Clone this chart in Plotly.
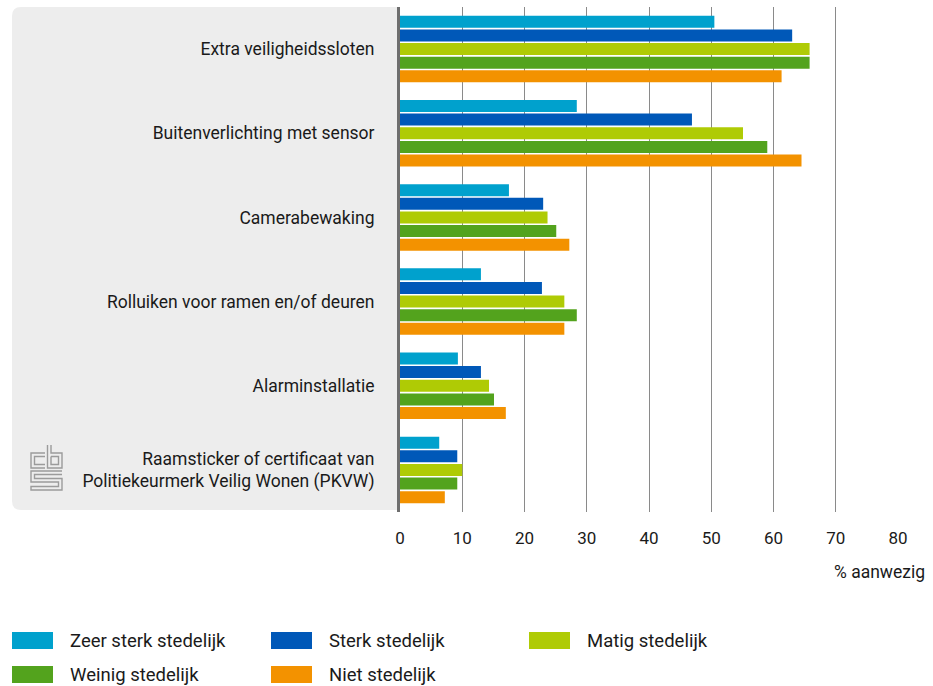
import plotly.graph_objects as go

# ---------------- data ----------------
CATEGORIES = [
    "Extra veiligheidssloten",
    "Buitenverlichting met sensor",
    "Camerabewaking",
    "Rolluiken voor ramen en/of deuren",
    "Alarminstallatie",
    "Raamsticker of certificaat van<br>Politiekeurmerk Veilig Wonen (PKVW)",
]
SERIES = ["Zeer sterk stedelijk", "Sterk stedelijk", "Matig stedelijk",
          "Weinig stedelijk", "Niet stedelijk"]
ZEER_STERK = [50.5, 28.4, 17.5, 13.0, 9.3, 6.3]
STERK = [63.0, 46.9, 23.0, 22.8, 13.0, 9.2]
MATIG = [65.8, 55.1, 23.7, 26.4, 14.3, 10.0]
WEINIG = [65.8, 59.0, 25.1, 28.4, 15.1, 9.2]
NIET = [61.3, 64.5, 27.2, 26.4, 17.0, 7.2]
VALUES = [ZEER_STERK, STERK, MATIG, WEINIG, NIET]
COLORS = ["#00a1cd", "#0058b8", "#afcb05", "#53a31d", "#f39200"]
X_TICKS = [0, 10, 20, 30, 40, 50, 60, 70, 80]
X_TITLE = "% aanwezig"

FONT = "Roboto, Liberation Sans, sans-serif"
TXT = "#1a1a1a"

W, H = 933, 686
ML, MR, MT, MB = 400, 35, 7, 174
PW = W - ML - MR
PH = H - MT - MB


def px(x):
    return (x - ML) / PW


def py(y):
    return (H - MB - y) / PH


fig = go.Figure()
for name, vals, col in zip(SERIES, VALUES, COLORS):
    fig.add_trace(go.Bar(
        y=CATEGORIES, x=vals, name=name, orientation="h",
        marker=dict(color=col, line=dict(width=0)),
        showlegend=False,
    ))

shapes = []
# grey rounded panel behind category labels
r = 9
x0, x1, y0, y1 = 12, 400, 7, 510
panel = (f"M{px(x1)},{py(y0)} L{px(x0 + r)},{py(y0)} "
         f"Q{px(x0)},{py(y0)} {px(x0)},{py(y0 + r)} "
         f"L{px(x0)},{py(y1 - r)} Q{px(x0)},{py(y1)} {px(x0 + r)},{py(y1)} "
         f"L{px(x1)},{py(y1)} Z")
shapes.append(dict(type="path", path=panel, xref="paper", yref="paper",
                   fillcolor="#ededed", line=dict(width=0), layer="below"))


# CBS logo (decorative)
def pth(points):
    return "M" + " L".join(f"{px(a)},{py(b)}" for a, b in points)


logo_paths = [
    # c
    [(45, 453), (31, 453), (31, 468), (45, 468)],
    [(45, 456.5), (34.5, 456.5), (34.5, 464.5), (45, 464.5)],
    # b
    [(47.5, 445), (47.5, 468), (62, 468), (62, 453), (51, 453), (51, 445)],
    [(51, 456.5), (58.5, 456.5), (58.5, 464.5), (51, 464.5), (51, 456.5)],
    # S
    [(62, 471), (31, 471), (31, 482), (58.5, 482), (58.5, 486.5), (31, 486.5),
     (31, 490), (62, 490), (62, 478.5), (34.5, 478.5), (34.5, 474.5), (62, 474.5)],
]
for pts in logo_paths:
    shapes.append(dict(type="path", path=pth(pts), xref="paper", yref="paper",
                       line=dict(color="#9b9b9b", width=1.4)))

annotations = []
# custom legend
LEG_X = [12, 271, 529]
LEG_Y = [640.5, 674.5]
for i, (name, col) in enumerate(zip(SERIES, COLORS)):
    cx = LEG_X[i % 3]
    cy = LEG_Y[i // 3]
    shapes.append(dict(type="rect", xref="paper", yref="paper",
                       x0=px(cx), x1=px(cx + 41), y0=py(cy - 8.5), y1=py(cy + 8.5),
                       fillcolor=col, line=dict(width=0)))
    annotations.append(dict(text=name, xref="paper", yref="paper",
                            x=px(cx + 56), y=py(cy), xanchor="left", yanchor="middle",
                            showarrow=False, font=dict(family=FONT, size=18.5, color=TXT)))

annotations.append(dict(text=X_TITLE, xref="paper", yref="paper",
                        x=px(927), y=py(572), xanchor="right", yanchor="middle",
                        showarrow=False, font=dict(family=FONT, size=17.5, color=TXT)))

fig.update_layout(
    width=W, height=H,
    margin=dict(l=ML, r=MR, t=MT, b=MB, pad=0),
    paper_bgcolor="white", plot_bgcolor="white",
    barmode="group", bargap=0.19, bargroupgap=0.12,
    font=dict(family=FONT, size=17.5, color=TXT),
    shapes=shapes, annotations=annotations,
    showlegend=False, hovermode=False,
    xaxis=dict(range=[0, 80], tickvals=X_TICKS, ticktext=[str(t) for t in X_TICKS],
               showgrid=True, gridcolor="#8a8a8a", gridwidth=1,
               zeroline=False, showline=False, ticks="",
               ticklabelstandoff=14,
               tickfont=dict(family=FONT, size=17, color=TXT)),
    yaxis=dict(autorange="reversed", showgrid=False, zeroline=False,
               showline=True, linecolor="#6e6e6e", linewidth=3, ticks="",
               ticklabelstandoff=19,
               tickfont=dict(family=FONT, size=17.5, color=TXT)),
)

fig.write_html(
    "out.html",
    config={"displayModeBar": False, "staticPlot": True},
    post_script="document.body.style.margin='0';document.body.style.overflow='hidden';",
)
